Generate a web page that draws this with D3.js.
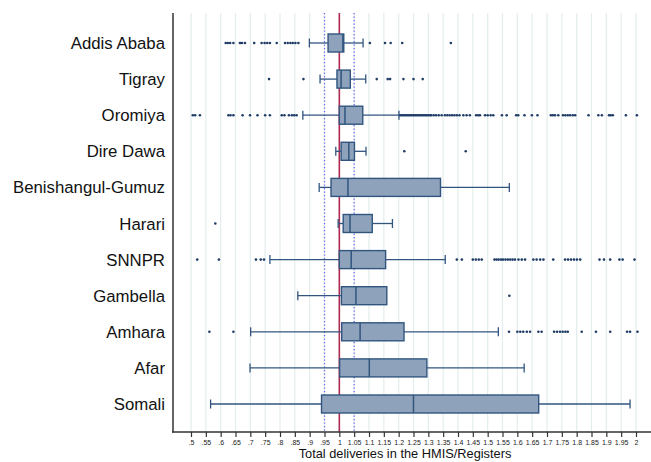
<!DOCTYPE html>
<html>
<head>
<meta charset="utf-8">
<script src="https://cdn.jsdelivr.net/npm/d3@7"></script>
<style>
  body { margin: 0; background: #fff; }
  text { font-family: "Liberation Sans", Arial, sans-serif; }
</style>
</head>
<body>
<svg id="chart" width="651" height="462"></svg>
<script>
const regions = ['Addis Ababa', 'Tigray', 'Oromiya', 'Dire Dawa', 'Benishangul-Gumuz', 'Harari',
  'SNNPR', 'Gambella', 'Amhara', 'Afar', 'Somali']
const whiskLo = [0.899, 0.935, 0.877, 0.988, 0.932, 0.996, 0.766, 0.86, 0.701, 0.699, 0.566]
const q1 = [0.962, 0.992, 1.0, 1.006, 0.972, 1.013, 1.0, 1.007, 1.008, 1.001, 0.94]
const median = [1.012, 1.006, 1.019, 1.032, 1.029, 1.036, 1.04, 1.056, 1.07, 1.101, 1.25]
const q3 = [1.015, 1.037, 1.079, 1.051, 1.341, 1.111, 1.156, 1.16, 1.218, 1.295, 1.672]
const whiskHi = [1.08, 1.089, 1.201, 1.09, 1.573, 1.179, 1.357, 1.16, 1.536, 1.623, 1.98]
const outliers = [
  [0.617, 0.624, 0.632, 0.643, 0.665, 0.672, 0.682, 0.713, 0.738, 0.748, 0.757, 0.766, 0.789,
    0.817, 0.826, 0.835, 0.843, 0.852, 0.862, 1.103, 1.154, 1.173, 1.212, 1.376],
  [0.763, 0.879, 1.126, 1.163, 1.171, 1.216, 1.25, 1.281],
  [0.506, 0.514, 0.53, 0.626, 0.633, 0.643, 0.674, 0.699, 0.724, 0.75, 0.766, 0.806, 0.815,
    0.83, 0.84, 0.848, 0.856,
    1.205, 1.21, 1.215, 1.22, 1.225, 1.23, 1.235, 1.24, 1.245, 1.25, 1.255, 1.26, 1.265, 1.27,
    1.275, 1.28, 1.285, 1.29, 1.295, 1.3, 1.306, 1.31, 1.318, 1.326, 1.335, 1.345, 1.356,
    1.364, 1.372, 1.38, 1.388, 1.396, 1.405, 1.418, 1.429, 1.44, 1.461, 1.468, 1.474, 1.491,
    1.5, 1.51, 1.519, 1.548, 1.564, 1.596, 1.603, 1.624, 1.649, 1.668, 1.713, 1.72, 1.727,
    1.738, 1.754, 1.762, 1.77, 1.778, 1.787, 1.795, 1.84, 1.873, 1.885, 1.909, 1.915, 1.922,
    1.966, 2.003],
  [1.219, 1.426],
  [],
  [0.582],
  [0.521, 0.594, 0.719, 0.735, 0.746, 1.396, 1.413, 1.45, 1.46, 1.47, 1.48, 1.523, 1.53, 1.537,
    1.545, 1.552, 1.56, 1.568, 1.576, 1.584, 1.592, 1.604, 1.615, 1.626, 1.654, 1.665, 1.677,
    1.688, 1.721, 1.761, 1.771, 1.781, 1.791, 1.801, 1.812, 1.877, 1.892, 1.913, 1.944, 1.955,
    1.995],
  [1.573],
  [0.562, 0.643, 1.572, 1.6, 1.61, 1.62, 1.632, 1.643, 1.671, 1.682, 1.724, 1.734, 1.744,
    1.753, 1.762, 1.77, 1.817, 1.865, 1.913, 1.97, 1.98, 2.005],
  [],
  []
]
const ticks = d3.range(0, 31).map(i => +(0.5 + i * 0.05).toFixed(2))
const refLine = 1
const bandLines = [0.95, 1.05]

const svg = d3.select('#chart')
const x = d3.scaleLinear().domain([0.5, 2]).range([191, 636])
const y = d3.scalePoint().domain(regions).range([43, 404])
const boxH = 18
const capH = 9

// grid
svg.append('g').selectAll('line')
  .data(ticks)
  .enter().append('line')
  .attr('x1', d => x(d)).attr('x2', d => x(d))
  .attr('y1', 13).attr('y2', 432)
  .attr('stroke', '#e3eded')
  .attr('stroke-width', 1.2)

// reference lines
svg.append('g').selectAll('line')
  .data(bandLines)
  .enter().append('line')
  .attr('x1', d => x(d)).attr('x2', d => x(d))
  .attr('y1', 13).attr('y2', 432)
  .attr('stroke', '#6a6af0')
  .attr('stroke-width', 1.3)
  .attr('stroke-dasharray', '1.3,2.2')

svg.append('line')
  .attr('x1', x(refLine)).attr('x2', x(refLine))
  .attr('y1', 13).attr('y2', 432)
  .attr('stroke', '#b02a52')
  .attr('stroke-width', 1.6)

const rows = regions.map((r, i) => ({
  name: r, lo: whiskLo[i], q1: q1[i], med: median[i], q3: q3[i], hi: whiskHi[i], out: outliers[i]
}))

const g = svg.append('g').selectAll('.row')
  .data(rows)
  .enter().append('g')
  .attr('class', 'row')
  .attr('transform', d => `translate(0,${y(d.name)})`)

const stroke = '#31557f'

// whiskers
g.append('line')
  .attr('x1', d => x(d.lo)).attr('x2', d => x(d.q1))
  .attr('stroke', stroke).attr('stroke-width', 1.3)
g.append('line')
  .attr('x1', d => x(d.q3)).attr('x2', d => x(d.hi))
  .attr('stroke', stroke).attr('stroke-width', 1.3)
g.append('line')
  .attr('x1', d => x(d.lo)).attr('x2', d => x(d.lo))
  .attr('y1', -capH / 2).attr('y2', capH / 2)
  .attr('stroke', stroke).attr('stroke-width', 1.3)
g.filter(d => d.hi > d.q3).append('line')
  .attr('x1', d => x(d.hi)).attr('x2', d => x(d.hi))
  .attr('y1', -capH / 2).attr('y2', capH / 2)
  .attr('stroke', stroke).attr('stroke-width', 1.3)

// boxes
g.append('rect')
  .attr('x', d => x(d.q1))
  .attr('y', -boxH / 2)
  .attr('width', d => x(d.q3) - x(d.q1))
  .attr('height', boxH)
  .attr('fill', '#8ea3bb')
  .attr('stroke', stroke)
  .attr('stroke-width', 1.4)
g.append('line')
  .attr('x1', d => x(d.med)).attr('x2', d => x(d.med))
  .attr('y1', -boxH / 2).attr('y2', boxH / 2)
  .attr('stroke', stroke).attr('stroke-width', 1.5)

// outliers
g.selectAll('circle')
  .data(d => d.out)
  .enter().append('circle')
  .attr('cx', d => x(d))
  .attr('cy', 0)
  .attr('r', 1.3)
  .attr('fill', '#1f3d66')

// category labels
svg.append('g').selectAll('text')
  .data(regions)
  .enter().append('text')
  .attr('x', 165)
  .attr('y', d => y(d))
  .attr('dy', '0.36em')
  .attr('text-anchor', 'end')
  .attr('font-size', 16.8)
  .attr('fill', '#111')
  .text(d => d)

// left axis line
svg.append('line')
  .attr('x1', 173).attr('x2', 173)
  .attr('y1', 13).attr('y2', 432.5)
  .attr('stroke', '#333').attr('stroke-width', 1.5)

// bottom axis
const xAxis = d3.axisBottom(x)
  .tickValues(ticks)
  .tickSize(5)
  .tickPadding(3)
  .tickFormat(d => d3.format('.2~f')(d).replace(/^0\./, '.'))

const ax = svg.append('g')
  .attr('transform', 'translate(0,432)')
  .call(xAxis)
ax.select('.domain').remove()
ax.append('line')
  .attr('x1', 172).attr('x2', 651)
  .attr('stroke', '#333').attr('stroke-width', 1.5)
ax.selectAll('.tick line').attr('stroke', '#333').attr('stroke-width', 1.2)
ax.selectAll('.tick text')
  .attr('font-size', 7)
  .attr('fill', '#222')
  .attr('font-family', '"Liberation Sans", Arial, sans-serif')

svg.append('text')
  .attr('x', 405)
  .attr('y', 458)
  .attr('text-anchor', 'middle')
  .attr('font-size', 12.8)
  .attr('fill', '#111')
  .text('Total deliveries in the HMIS/Registers')
</script>
</body>
</html>
